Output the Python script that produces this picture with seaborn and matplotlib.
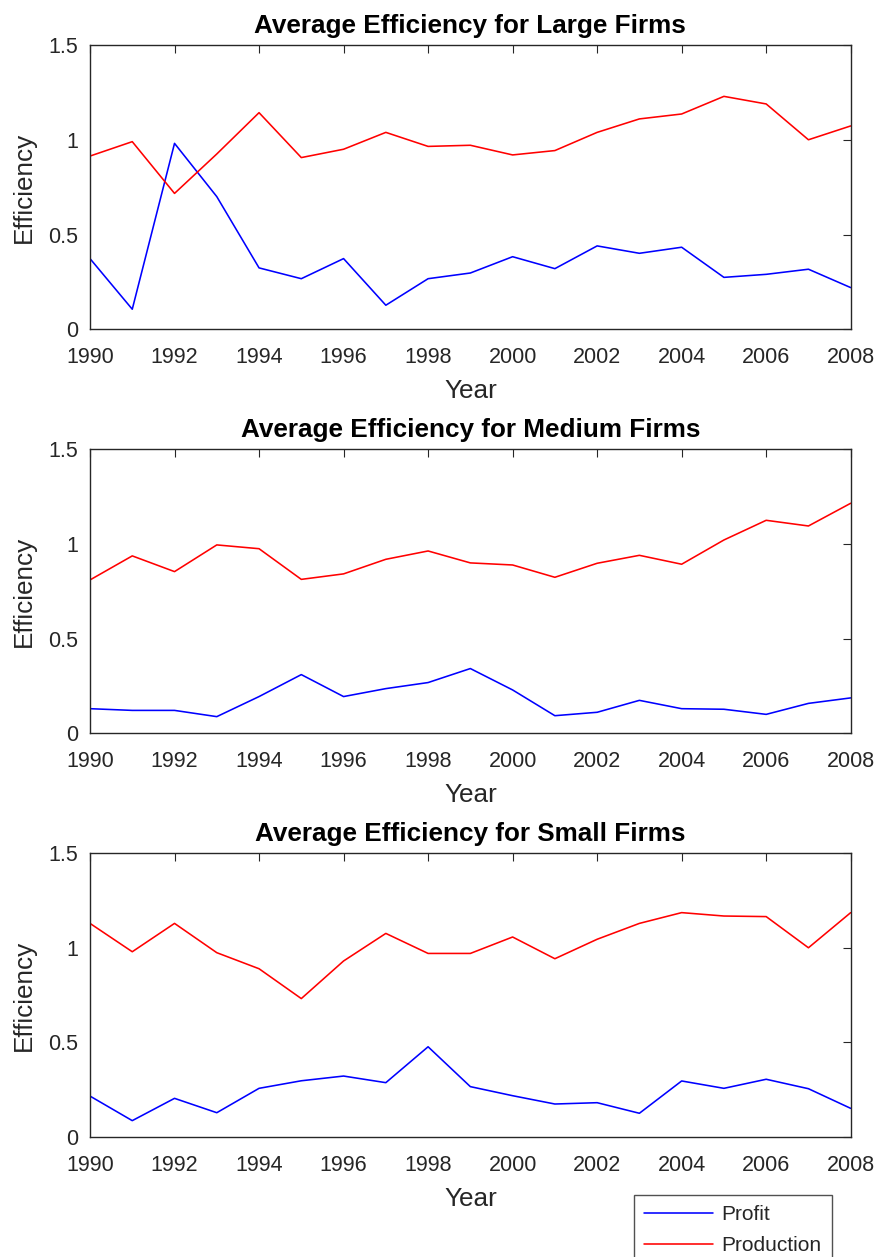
import matplotlib
matplotlib.use("Agg")
import matplotlib.pyplot as plt
import seaborn as sns
import pandas as pd
from matplotlib.lines import Line2D

years = list(range(1990, 2009))

large_profit = [0.373, 0.106, 0.981, 0.70, 0.324, 0.267, 0.373, 0.127, 0.267, 0.297,
                0.383, 0.320, 0.440, 0.401, 0.433, 0.274, 0.290, 0.317, 0.220]
large_production = [0.914, 0.990, 0.717, 0.925, 1.143, 0.906, 0.950, 1.039, 0.965, 0.971,
                    0.920, 0.943, 1.039, 1.110, 1.136, 1.229, 1.189, 1.000, 1.073]

medium_profit = [0.130, 0.121, 0.121, 0.088, 0.194, 0.310, 0.194, 0.236, 0.268, 0.342,
                 0.229, 0.093, 0.111, 0.174, 0.130, 0.127, 0.100, 0.158, 0.187]
medium_production = [0.810, 0.937, 0.854, 0.995, 0.975, 0.813, 0.842, 0.919, 0.963, 0.900,
                     0.889, 0.824, 0.898, 0.940, 0.893, 1.021, 1.125, 1.095, 1.215]

small_profit = [0.215, 0.085, 0.203, 0.127, 0.256, 0.296, 0.321, 0.286, 0.476, 0.265,
                0.217, 0.173, 0.180, 0.124, 0.295, 0.256, 0.304, 0.254, 0.150]
small_production = [1.129, 0.979, 1.129, 0.974, 0.889, 0.731, 0.930, 1.076, 0.970, 0.970,
                    1.057, 0.942, 1.045, 1.129, 1.186, 1.168, 1.165, 1.000, 1.186]

panel_titles = ["Average Efficiency for Large Firms",
                "Average Efficiency for Medium Firms",
                "Average Efficiency for Small Firms"]
series_names = ["Profit", "Production"]
x_ticks = list(range(1990, 2009, 2))
y_ticks = [0, 0.5, 1, 1.5]
y_ticklabels = ["0", "0.5", "1", "1.5"]

sns.set_style("white")
plt.rcParams['font.family'] = ['Liberation Sans', 'DejaVu Sans']

axis_color = "#262626"
palette = {"Profit": "#0000ff", "Production": "#ff0000"}

fig = plt.figure(figsize=(8.81, 12.57), dpi=100)

W, H = 881.0, 1257.0
left_px, right_px = 90.0, 850.7
panel_px = [(45.0, 329.3), (449.3, 733.3), (853.3, 1136.7)]

data_sets = [(large_profit, large_production),
             (medium_profit, medium_production),
             (small_profit, small_production)]

for (top, bot), title, (prof, prod) in zip(panel_px, panel_titles, data_sets):
    ax = fig.add_axes([left_px / W, 1 - bot / H, (right_px - left_px) / W, (bot - top) / H])
    df = pd.DataFrame({
        "Year": years * 2,
        "Efficiency": prof + prod,
        "Series": [series_names[0]] * len(years) + [series_names[1]] * len(years),
    })
    sns.lineplot(data=df, x="Year", y="Efficiency", hue="Series", palette=palette,
                 ax=ax, legend=False, linewidth=1.15)
    ax.set_xlim(1990, 2008)
    ax.set_ylim(0, 1.5)
    ax.set_xticks(x_ticks)
    ax.set_xticklabels([str(t) for t in x_ticks])
    ax.set_yticks(y_ticks)
    ax.set_yticklabels(y_ticklabels)
    ax.tick_params(axis="both", direction="in", length=5.5, width=0.8,
                   colors=axis_color, labelsize=15.5, top=True, right=True)
    ax.tick_params(axis="x", pad=13)
    ax.tick_params(axis="y", pad=8.5)
    for s in ax.spines.values():
        s.set_visible(True)
        s.set_color(axis_color)
        s.set_linewidth(1.0)
    ax.set_xlabel("Year", fontsize=18.8, color=axis_color, labelpad=8)
    ax.set_ylabel("Efficiency", fontsize=18.8, color=axis_color, labelpad=9)
    ax.set_title(title, fontsize=18.8, fontweight="bold", color="black", pad=9)

handles = [Line2D([0], [0], color=palette[n], linewidth=1.15) for n in series_names]
leg = fig.legend(handles, series_names, loc="upper left",
                 bbox_to_anchor=(634 / W, 1 - 1195 / H), borderaxespad=0,
                 fontsize=15, frameon=True, fancybox=False, handlelength=3.3,
                 handletextpad=0.4, borderpad=0.5, labelspacing=0.55)
leg.get_frame().set_edgecolor(axis_color)
leg.get_frame().set_linewidth(1.0)
for t in leg.get_texts():
    t.set_color(axis_color)

fig.savefig("out.png", dpi=100, facecolor="white")
